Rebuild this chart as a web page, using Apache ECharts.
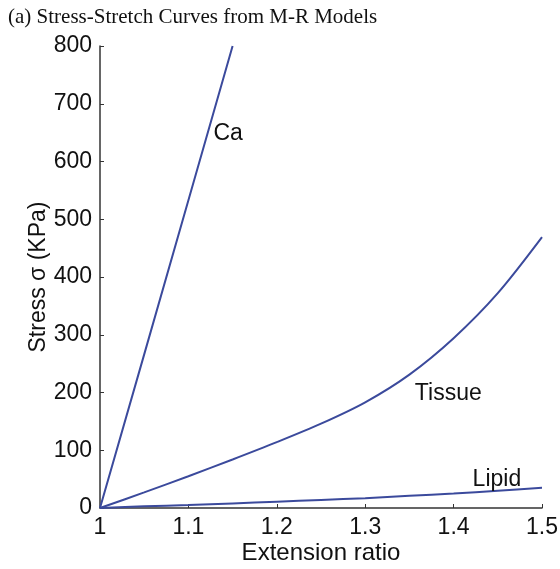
<!DOCTYPE html>
<html>
<head>
<meta charset="utf-8">
<script src="https://cdn.jsdelivr.net/npm/echarts@6/dist/echarts.min.js"></script>
<style>
  html, body { margin: 0; padding: 0; background: #fff; }
  #chartBox { width: 560px; height: 569px; }
</style>
</head>
<body>
<div id="chartBox"></div>
<script>
// extension ratio values
var ratios = [1, 1.05, 1.1, 1.15, 1.2, 1.25, 1.3, 1.35, 1.4, 1.45, 1.5];
// Ca curve (stops at 800)
var caRatio = [1, 1.05, 1.1, 1.15];
var caStress = [0, 266, 533, 800];
// tissue curve
var tissueStress = [0, 27, 55, 84, 114, 146, 183, 231, 294, 372, 469];
// lipid curve
var lipidStress = [0, 3, 5, 8, 11, 14, 17, 21, 25, 30, 35];
// curve label anchors [ratio, stress]
var caLabel = [1.145, 648];
var tissueLabel = [1.394, 198];
var lipidLabel = [1.449, 49];

var lineColor = "#3b4a9c";
var sans = "Liberation Sans, Arial, sans-serif";

function pairs(xs, ys) {
  return xs.map(function (x, i) { return [x, ys[i]]; });
}

function tag(name, pos) {
  return {
    symbol: "circle",
    symbolSize: 0,
    data: [{ name: name, coord: pos }],
    label: {
      show: true,
      position: "inside",
      formatter: "{b}",
      color: "#111",
      fontSize: 23,
      fontFamily: sans
    }
  };
}

var chart = echarts.init(document.getElementById("chartBox"));
var option = {
  animation: false,
  title: {
    text: "(a) Stress-Stretch Curves from M-R Models",
    left: 3,
    top: 2,
    textStyle: {
      fontFamily: "Liberation Serif, Times New Roman, serif",
      fontWeight: "normal",
      fontSize: 21,
      color: "#111"
    }
  },
  grid: { left: 100, top: 46, width: 442, height: 462, outerBoundsMode: "none", containLabel: false },
  xAxis: {
    type: "value",
    min: 1,
    max: 1.5,
    interval: 0.1,
    name: "Extension ratio",
    nameLocation: "middle",
    nameGap: 33,
    nameMoveOverlap: false,
    nameTextStyle: { color: "#111", fontSize: 24, fontFamily: sans },
    axisLine: { lineStyle: { color: "#333", width: 1.5 } },
    axisTick: { inside: true, length: 4, lineStyle: { color: "#333" } },
    axisLabel: {
      color: "#111", fontSize: 23, margin: 8,
      fontFamily: sans,
      formatter: function (v) { return String(+v.toFixed(1)); }
    },
    splitLine: { show: false }
  },
  yAxis: {
    type: "value",
    min: 0,
    max: 800,
    interval: 100,
    name: "Stress σ (KPa)",
    nameLocation: "middle",
    nameGap: 50,
    nameMoveOverlap: false,
    nameTextStyle: { color: "#111", fontSize: 23, fontFamily: sans },
    axisLine: { show: true, lineStyle: { color: "#333", width: 1.5 } },
    axisTick: { show: true, inside: true, length: 4, lineStyle: { color: "#333" } },
    axisLabel: { color: "#111", fontSize: 23, margin: 8, fontFamily: sans },
    splitLine: { show: false }
  },
  series: [
    {
      name: "Ca",
      type: "line",
      data: pairs(caRatio, caStress),
      showSymbol: false,
      lineStyle: { color: lineColor, width: 2 },
      markPoint: tag("Ca", caLabel)
    },
    {
      name: "Tissue",
      type: "line",
      smooth: 0.3,
      data: pairs(ratios, tissueStress),
      showSymbol: false,
      lineStyle: { color: lineColor, width: 2 },
      markPoint: tag("Tissue", tissueLabel)
    },
    {
      name: "Lipid",
      type: "line",
      smooth: 0.3,
      data: pairs(ratios, lipidStress),
      showSymbol: false,
      lineStyle: { color: lineColor, width: 2 },
      markPoint: tag("Lipid", lipidLabel)
    }
  ]
};
chart.setOption(option);
</script>
</body>
</html>
